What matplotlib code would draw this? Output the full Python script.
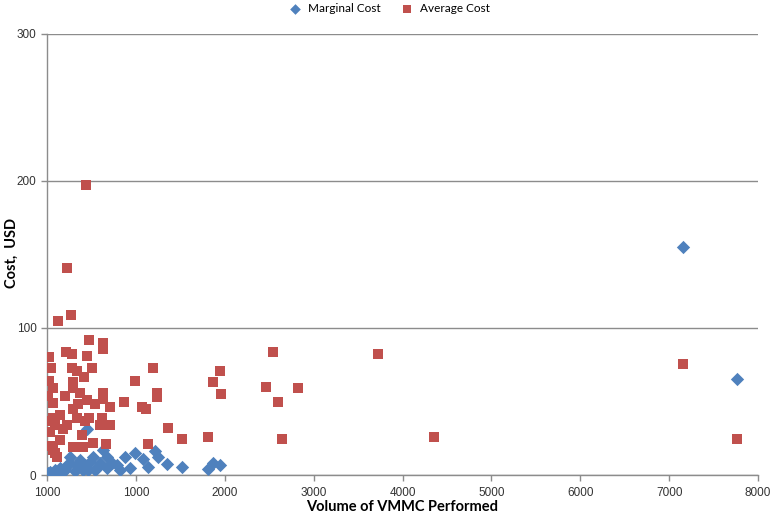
import matplotlib
matplotlib.use("Agg")
import matplotlib.pyplot as plt
import matplotlib.transforms as mtransforms

# Marginal cost (blue diamonds)
marg_x = [7154, 7762, 449, 629, 989, 877, 1215, 1248, 1080, 1136, 674, 730, 674,
          33, 145, 258, 258, 370, 482, 516, 561, 404, 336, 201, 89, 10, 55,
          1349, 1518, 1810, 1867, 1946, 123, 168, 314, 460, 595, 786, 933, 820,
          539, 426, 213]
marg_y = [155, 65, 31, 17, 15, 12, 16, 12, 11, 5.4, 12, 8, 5,
          2, 5, 8, 12, 10, 9, 12, 5, 3.4, 7, 3.4, 3.4, 1.4, 0.7,
          7.5, 5.4, 4.1, 8.2, 6.8, 1, 2, 2.7, 3.4, 8, 7, 5, 3.4,
          3.4, 7, 6]

# Average cost (red squares)
avg_x = [438, 224, 123, 269, 471, 629, 629, 213, 280, 449, 21, 44, 280, 336, 505,
         415, 1193, 989, 21, 66, 291, 291, 370, 629, 629, 449, 1236, 1236, 865,
         1068, 1113, 66, 291, 348, 471, 618, 708, 595, 1360, 1518, 66, 336, 224,
         33, 392, 516, 663, 291, 1136, 89, 111, 179, 145, 404, 33, 66,
         1810, 1867, 1946, 1956, 2463, 2543, 2598, 2643, 2823, 3724, 4352,
         7154, 7762, 10, 33, 89, 145, 201, 426, 539, 708]
avg_y = [197, 141, 105, 109, 92, 90, 86, 84, 82, 81, 80, 73, 73, 71, 73,
         67, 73, 64, 64, 59, 63, 59, 56, 56, 52, 51, 56, 53, 50,
         46, 45, 49, 45, 48, 39, 39, 34, 34, 32, 24.5, 39, 39, 34,
         29, 27, 22, 21, 19, 21, 15, 12, 31, 24, 19, 37, 17,
         26, 63, 71, 55, 60, 84, 50, 24.5, 59, 82, 26,
         75.5, 24.5, 54, 20, 34, 41, 54, 37, 48, 46]

x_ticks = [0, 1000, 2000, 3000, 4000, 5000, 6000, 7000, 8000]
x_labels = ['1000', '1000', '2000', '3000', '4000', '5000', '6000', '7000', '8000']
y_ticks = [0, 100, 200, 300]

blue = '#4F81BD'
red = '#C0504D'
grey = '#8C8C8C'

fig = plt.figure(figsize=(7.73, 5.17), dpi=100)
ax = fig.add_axes([47 / 773, 1 - 475 / 517, 711 / 773, 441 / 517])

ax.scatter(marg_x, marg_y, marker='D', s=46, color=blue, linewidths=0,
           label='Marginal Cost', zorder=3)
ax.scatter(avg_x, avg_y, marker='s', s=62, color=red, linewidths=0,
           label='Average Cost', zorder=4)

ax.set_xlim(0, 8000)
ax.set_ylim(0, 300)
ax.set_xticks(x_ticks)
ax.set_xticklabels(x_labels)
ax.set_yticks(y_ticks)
# first x label sits slightly right of the origin in the original
first = ax.get_xticklabels()[0]
first.set_transform(first.get_transform() + mtransforms.ScaledTranslation(11 / 100, 0, fig.dpi_scale_trans))

ax.grid(axis='y', color=grey, linewidth=1)
ax.set_axisbelow(True)
for side in ['top', 'right']:
    ax.spines[side].set_visible(False)
for side in ['left', 'bottom']:
    ax.spines[side].set_color(grey)
    ax.spines[side].set_linewidth(1)
ax.tick_params(axis='both', colors=grey, length=4, width=1, labelcolor='#333333',
               labelsize=8.5, labelfontfamily='Liberation Sans')
ax.tick_params(axis='x', pad=5)

fig.text(402 / 773, 1 - 507 / 517, 'Volume of VMMC Performed', fontsize=10.5,
         fontweight='bold', family='Lato', ha='center', va='center')
fig.text(12 / 773, 1 - 253 / 517, 'Cost,  USD', fontsize=10.5, fontweight='bold',
         family='Lato', ha='center', va='center', rotation=90)

fig.legend(loc='upper center', bbox_to_anchor=(0.5, 1.005), ncol=2, frameon=False,
           prop={'family': 'Lato', 'size': 8.5}, handletextpad=0.1,
           columnspacing=1.2, markerscale=0.8, borderaxespad=0.1)

fig.savefig('out.png', dpi=100)
